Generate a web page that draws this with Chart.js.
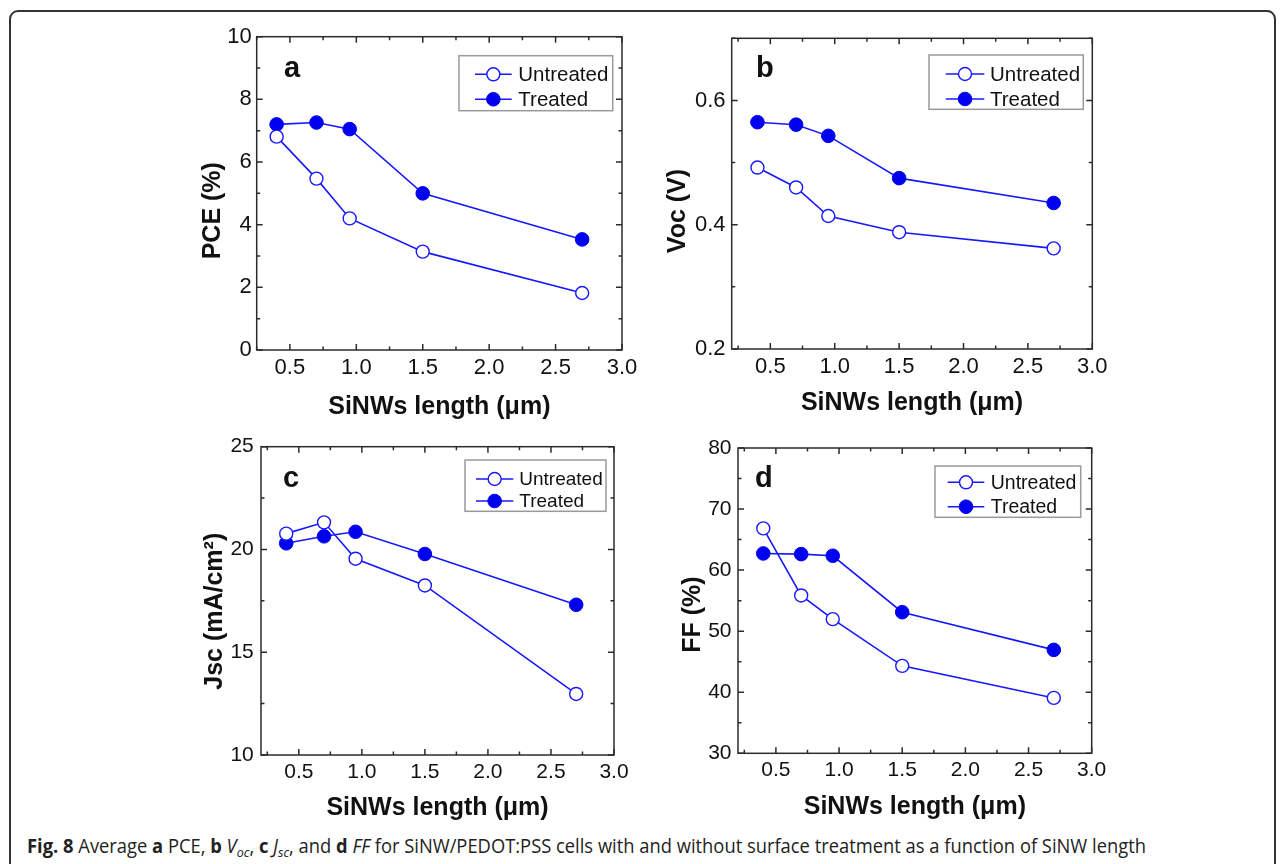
<!DOCTYPE html>
<html><head><meta charset="utf-8">
<script src="https://cdn.jsdelivr.net/npm/chart.js@4.4.0/dist/chart.umd.min.js"></script>
<style>
html,body{margin:0;padding:0;background:#fff;width:1284px;height:864px;overflow:hidden;position:relative}
#frame{position:absolute;left:9px;top:10px;width:1267px;height:900px;border:2px solid #333;border-radius:9px;box-sizing:border-box}
canvas{position:absolute}
#cap{position:absolute;left:27px;top:833px;font-family:'Open Sans',sans-serif;font-size:19.5px;color:#222;white-space:nowrap;transform-origin:0 0;line-height:26px}
#cap b{font-weight:700}
#cap sub{font-size:0.68em;vertical-align:-0.3em;line-height:0}
</style></head><body>
<div id="frame"></div>
<div id="cap"><b>Fig. 8</b> Average <b>a</b> PCE, <b>b</b> <i>V</i><sub><i>oc</i></sub>, <b>c</b> <i>J</i><sub><i>sc</i></sub>, and <b>d</b> <i>FF</i> for SiNW/PEDOT:PSS cells with and without surface treatment as a function of SiNW length</div>
<script>
// ---- data ----
const lengthsUm = [0.4, 0.7, 0.95, 1.5, 2.7];
const seriesNames = ['Untreated', 'Treated'];
const pceUntreated = [6.81, 5.47, 4.20, 3.14, 1.82];
const pceTreated   = [7.20, 7.26, 7.05, 5.00, 3.53];
const vocUntreated = [0.492, 0.460, 0.414, 0.388, 0.362];
const vocTreated   = [0.565, 0.561, 0.543, 0.475, 0.435];
const jscUntreated = [20.77, 21.32, 19.55, 18.25, 12.97];
const jscTreated   = [20.30, 20.64, 20.86, 19.78, 17.31];
const ffUntreated  = [66.83, 55.85, 51.97, 44.32, 39.07];
const ffTreated    = [62.73, 62.62, 62.35, 53.11, 46.94];
const xTickLabels  = [0.5, 1.0, 1.5, 2.0, 2.5, 3.0];
const xMinorTicks  = [0.25, 0.75, 1.25, 1.75, 2.25, 2.75];
const pceTicks = [0, 2, 4, 6, 8, 10];       const pceMinor = [1, 3, 5, 7, 9];
const vocTicks = [0.2, 0.4, 0.6];           const vocMinor = [0.3, 0.5, 0.7];
const jscTicks = [10, 15, 20, 25];          const jscMinor = [12.5, 17.5, 22.5];
const ffTicks  = [30, 40, 50, 60, 70, 80];  const ffMinor  = [35, 45, 55, 65, 75];
const xTitle = 'SiNWs length (\u03bcm)';

// ---- styling ----
const FONT = "'Liberation Sans', Arial, Helvetica, sans-serif";
const LINE_BLUE = '#1818ff';
const FILL_BLUE = '#0000f0';
const TEXT = '#111';
Chart.defaults.font.family = FONT;
Chart.defaults.color = TEXT;

const frameTicks = {
  id: 'frameTicks',
  beforeDatasetsDraw(chart, args, o) {
    const {ctx, chartArea: {left, right, top, bottom}, scales: {x, y}} = chart;
    ctx.save();
    ctx.strokeStyle = '#2b2b2b';
    ctx.lineWidth = 1.5;
    ctx.beginPath();
    const tick = (arr, len, horiz) => arr.forEach(v => {
      if (horiz) {
        const px = x.getPixelForValue(v);
        ctx.moveTo(px, bottom); ctx.lineTo(px, bottom - len);
        ctx.moveTo(px, top); ctx.lineTo(px, top + len);
      } else {
        const py = y.getPixelForValue(v);
        ctx.moveTo(left, py); ctx.lineTo(left + len, py);
        ctx.moveTo(right, py); ctx.lineTo(right - len, py);
      }
    });
    tick(o.xMajor, 6, true); tick(o.xMinor, 3.5, true);
    tick(o.yMajor, 6, false); tick(o.yMinor, 3.5, false);
    ctx.stroke();
    ctx.strokeRect(left, top, right - left, bottom - top);
    ctx.restore();
  },
  afterDatasetsDraw(chart, args, o) {
    const {ctx, chartArea} = chart;
    ctx.save();
    // panel letter
    ctx.fillStyle = TEXT;
    ctx.font = 'bold 29px ' + FONT;
    ctx.textBaseline = 'alphabetic';
    ctx.textAlign = 'left';
    ctx.fillText(o.letter, chartArea.left + o.letterDx, chartArea.top + o.letterDy);
    // legend
    const L = o.legend;
    const bx = chartArea.right - L.right - L.w, by = chartArea.top + L.top;
    ctx.strokeStyle = '#9a9a9a'; ctx.lineWidth = 1.5;
    ctx.strokeRect(bx, by, L.w, L.h);
    chart.data.datasets.forEach((ds, i) => {
      const yy = by + L.rows[i];
      ctx.strokeStyle = ds.borderColor; ctx.lineWidth = ds.borderWidth;
      ctx.beginPath(); ctx.moveTo(bx + L.lineX, yy); ctx.lineTo(bx + L.lineX + L.lineLen, yy); ctx.stroke();
      ctx.beginPath(); ctx.arc(bx + L.lineX + L.lineLen / 2, yy, ds.pointRadius, 0, Math.PI * 2);
      ctx.fillStyle = ds.pointBackgroundColor; ctx.fill();
      ctx.lineWidth = ds.pointBorderWidth; ctx.strokeStyle = ds.pointBorderColor; ctx.stroke();
      ctx.fillStyle = TEXT; ctx.font = L.font + 'px ' + FONT; ctx.textBaseline = 'middle';
      ctx.fillText(ds.label, bx + L.textX, yy + 1);
    });
    ctx.restore();
  }
};

function datasets(untr, tr) {
  return [
    {label: seriesNames[0], data: lengthsUm.map((x, i) => ({x, y: untr[i]})),
     showLine: true, borderColor: LINE_BLUE, borderWidth: 1.6, backgroundColor: '#fff',
     pointBackgroundColor: '#fff', pointBorderColor: LINE_BLUE, pointBorderWidth: 1.4, pointRadius: 6.5},
    {label: seriesNames[1], data: lengthsUm.map((x, i) => ({x, y: tr[i]})),
     showLine: true, borderColor: LINE_BLUE, borderWidth: 1.6, backgroundColor: FILL_BLUE,
     pointBackgroundColor: FILL_BLUE, pointBorderColor: FILL_BLUE, pointBorderWidth: 1, pointRadius: 6.8}
  ];
}

const panels = [
  {left: 170, top: 10, letter: 'a', untr: pceUntreated, tr: pceTreated, yMin: 0, yMax: 10, xMin: 0.25,
   yTicks: pceTicks, yMinor: pceMinor, fmt: v => String(v), yTitle: 'PCE (%)     ', tickFont: 22,
   padTop: 26.7, plotR: 452, yW: 86.7, xH: 80, yTickPad: 5, yTitlePad: 28, xTickPad: 5.2, xTitlePad: 8.3,
   letterDx: 27.3, letterDy: 40,
   legend: {right: 9.3, top: 19, w: 153.7, h: 55, lineX: 16, lineLen: 36.7, textX: 59.3, rows: [18.6, 43.6], font: 20.5}},
  {left: 630, top: 10, letter: 'b', untr: vocUntreated, tr: vocTreated, yMin: 0.2, yMax: 0.7, xMin: 0.2,
   yTicks: vocTicks, yMinor: vocMinor, fmt: v => v.toFixed(1), yTitle: 'Voc (V)     ', tickFont: 22,
   padTop: 28.3, plotR: 462.3, yW: 101.7, xH: 81, yTickPad: 6.2, yTitlePad: 33, xTickPad: 5.2, xTitlePad: 11.7,
   letterDx: 24.3, letterDy: 38.4,
   legend: {right: 9, top: 16.7, w: 154.3, h: 54.3, lineX: 16.7, lineLen: 38.6, textX: 61, rows: [19, 44], font: 20.5}},
  {left: 170, top: 420, letter: 'c', untr: jscUntreated, tr: jscTreated, yMin: 10, yMax: 25, xMin: 0.2,
   yTicks: jscTicks, yMinor: jscMinor, fmt: v => String(v), yTitle: 'Jsc (mA/cm\u00b2)   ', tickFont: 21,
   padTop: 26.7, plotR: 444, yW: 91, xH: 85, yTickPad: 7.2, yTitlePad: 30, xTickPad: 4.2, xTitlePad: 16.7,
   letterDx: 22, letterDy: 40,
   legend: {right: 8, top: 13.3, w: 141, h: 51.3, lineX: 11, lineLen: 37.3, textX: 54.3, rows: [19, 41], font: 19}},
  {left: 630, top: 420, letter: 'd', untr: ffUntreated, tr: ffTreated, yMin: 30, yMax: 80, xMin: 0.2,
   yTicks: ffTicks, yMinor: ffMinor, fmt: v => String(v), yTitle: 'FF (%)    ', tickFont: 21,
   padTop: 28, plotR: 461.7, yW: 108, xH: 86.7, yTickPad: 6.5, yTitlePad: 48.3, xTickPad: 4.2, xTitlePad: 18.3,
   letterDx: 17, letterDy: 38.7,
   legend: {right: 11, top: 18, w: 145.7, h: 51.3, lineX: 12.7, lineLen: 36.6, textX: 55.7, rows: [16.3, 40.7], font: 19.5}}
];

const CW = 500, CH = 420;
panels.forEach(p => {
  const cv = document.createElement('canvas');
  cv.width = CW; cv.height = CH;
  cv.style.left = p.left + 'px'; cv.style.top = p.top + 'px';
  cv.style.width = CW + 'px'; cv.style.height = CH + 'px';
  document.body.appendChild(cv);
  new Chart(cv, {
    type: 'scatter',
    data: {datasets: datasets(p.untr, p.tr)},
    plugins: [frameTicks],
    options: {
      responsive: false, animation: false, devicePixelRatio: 1,
      layout: {padding: {left: 0, top: p.padTop, right: CW - p.plotR, bottom: 0}},
      plugins: {
        legend: {display: false}, tooltip: {enabled: false},
        frameTicks: {xMajor: xTickLabels, xMinor: xMinorTicks, yMajor: p.yTicks, yMinor: p.yMinor,
                     letter: p.letter, letterDx: p.letterDx, letterDy: p.letterDy, legend: p.legend}
      },
      scales: {
        x: {type: 'linear', min: p.xMin, max: 3.0,
            afterBuildTicks: s => { s.ticks = xTickLabels.map(v => ({value: v})); },
            afterFit: s => { s.height = p.xH; },
            grid: {display: false, drawTicks: false}, border: {display: false},
            ticks: {padding: p.xTickPad, font: {size: p.tickFont}, color: TEXT, maxRotation: 0, autoSkip: false,
                    callback: v => Number(v).toFixed(1)},
            title: {display: true, text: xTitle, font: {size: 25, weight: 'bold'}, color: TEXT,
                    padding: {top: 0, bottom: p.xTitlePad}}},
        y: {type: 'linear', min: p.yMin, max: p.yMax,
            afterBuildTicks: s => { s.ticks = p.yTicks.map(v => ({value: v})); },
            afterFit: s => { s.width = p.yW; },
            grid: {display: false, drawTicks: false}, border: {display: false},
            ticks: {padding: p.yTickPad, font: {size: p.tickFont}, color: TEXT, autoSkip: false,
                    callback: v => p.fmt(Number(v))},
            title: {display: true, text: p.yTitle, font: {size: 25, weight: 'bold'}, color: TEXT,
                    padding: {top: p.yTitlePad, bottom: 0}}}
      }
    }
  });
});

// fit caption width to the reference span
const cap = document.getElementById('cap');
const w = cap.getBoundingClientRect().width;
cap.style.transform = 'scaleX(' + (1119 / w) + ')';
</script>
</body></html>
